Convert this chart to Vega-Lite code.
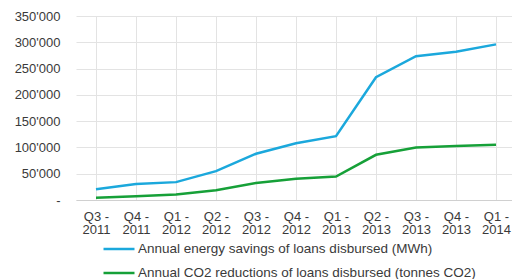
{
  "$schema": "https://vega.github.io/schema/vega-lite/v6.json",
  "autosize": {"type": "none"},
  "padding": {"left": 76, "top": 16, "right": 0, "bottom": 79},
  "width": 440,
  "height": 184,
  "config": {
    "font": "Liberation Sans",
    "view": {"stroke": null},
    "axis": {"labelFont": "Liberation Sans", "labelColor": "#3a3a3a", "labelFontSize": 13, "gridColor": "#e3e3e3", "gridWidth": 1, "domainColor": "#d0d0d0", "ticks": false, "title": null},
    "legend": {"labelFont": "Liberation Sans", "labelColor": "#3a3a3a", "labelFontSize": 13.5, "labelLimit": 0}
  },
  "data": {
    "values": [
      {"q": "Q3 - 2011", "s": "Annual energy savings of loans disbursed (MWh)", "v": 20500},
      {"q": "Q4 - 2011", "s": "Annual energy savings of loans disbursed (MWh)", "v": 30500},
      {"q": "Q1 - 2012", "s": "Annual energy savings of loans disbursed (MWh)", "v": 34000},
      {"q": "Q2 - 2012", "s": "Annual energy savings of loans disbursed (MWh)", "v": 55000},
      {"q": "Q3 - 2012", "s": "Annual energy savings of loans disbursed (MWh)", "v": 88000},
      {"q": "Q4 - 2012", "s": "Annual energy savings of loans disbursed (MWh)", "v": 108000},
      {"q": "Q1 - 2013", "s": "Annual energy savings of loans disbursed (MWh)", "v": 121500},
      {"q": "Q2 - 2013", "s": "Annual energy savings of loans disbursed (MWh)", "v": 233500},
      {"q": "Q3 - 2013", "s": "Annual energy savings of loans disbursed (MWh)", "v": 273500},
      {"q": "Q4 - 2013", "s": "Annual energy savings of loans disbursed (MWh)", "v": 282000},
      {"q": "Q1 - 2014", "s": "Annual energy savings of loans disbursed (MWh)", "v": 296000},
      {"q": "Q3 - 2011", "s": "Annual CO2 reductions of loans disbursed (tonnes CO2)", "v": 4200},
      {"q": "Q4 - 2011", "s": "Annual CO2 reductions of loans disbursed (tonnes CO2)", "v": 7000},
      {"q": "Q1 - 2012", "s": "Annual CO2 reductions of loans disbursed (tonnes CO2)", "v": 10500},
      {"q": "Q2 - 2012", "s": "Annual CO2 reductions of loans disbursed (tonnes CO2)", "v": 18500},
      {"q": "Q3 - 2012", "s": "Annual CO2 reductions of loans disbursed (tonnes CO2)", "v": 32500},
      {"q": "Q4 - 2012", "s": "Annual CO2 reductions of loans disbursed (tonnes CO2)", "v": 40500},
      {"q": "Q1 - 2013", "s": "Annual CO2 reductions of loans disbursed (tonnes CO2)", "v": 44500},
      {"q": "Q2 - 2013", "s": "Annual CO2 reductions of loans disbursed (tonnes CO2)", "v": 86000},
      {"q": "Q3 - 2013", "s": "Annual CO2 reductions of loans disbursed (tonnes CO2)", "v": 100000},
      {"q": "Q4 - 2013", "s": "Annual CO2 reductions of loans disbursed (tonnes CO2)", "v": 102500},
      {"q": "Q1 - 2014", "s": "Annual CO2 reductions of loans disbursed (tonnes CO2)", "v": 105000}
    ]
  },
  "mark": {"type": "line", "strokeWidth": 2.5, "interpolate": "linear"},
  "encoding": {
    "x": {
      "field": "q", "type": "nominal", "sort": null,
      "scale": {"paddingInner": 0, "paddingOuter": 0},
      "axis": {"labelAngle": 0, "labelPadding": 10, "labelLineHeight": 13.5, "grid": true, "bandPosition": 0, "gridDash": [], "labelExpr": "[slice(datum.value, 0, 4), slice(datum.value, 5)]", "domain": true}
    },
    "y": {
      "field": "v", "type": "quantitative",
      "scale": {"domain": [0, 350000], "nice": false},
      "axis": {"values": [0, 50000, 100000, 150000, 200000, 250000, 300000, 350000], "labelPadding": 16, "domain": false, "labelExpr": "datum.value == 0 ? '-' : replace(format(datum.value, ','), /,/g, \"'\")"}
    },
    "color": {
      "field": "s", "type": "nominal",
      "scale": {"domain": ["Annual energy savings of loans disbursed (MWh)", "Annual CO2 reductions of loans disbursed (tonnes CO2)"], "range": ["#1ba8dc", "#16a038"]},
      "legend": {"title": null, "orient": "none", "legendX": 26, "legendY": 216, "direction": "vertical", "symbolType": "stroke", "symbolSize": 961, "symbolStrokeWidth": 2.5, "rowPadding": -7, "labelOffset": 2}
    }
  }
}
